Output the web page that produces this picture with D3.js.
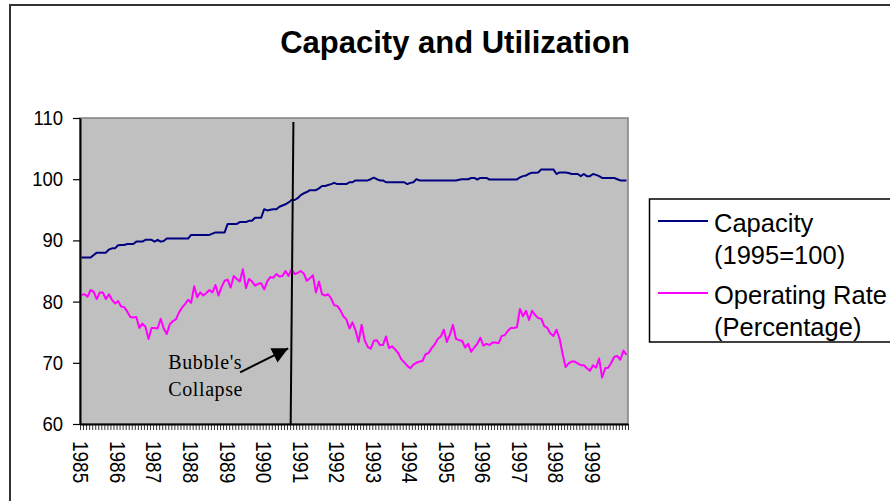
<!DOCTYPE html>
<html><head><meta charset="utf-8">
<script src="https://cdn.jsdelivr.net/npm/d3@7"></script>
<style>html,body{margin:0;padding:0;background:#fff;overflow:hidden;} svg{display:block;}</style>
</head><body>
<svg id="chart" width="890" height="501"></svg>
<script>
// ---- data ----
const title = "Capacity and Utilization";
const years = ["1985","1986","1987","1988","1989","1990","1991","1992","1993","1994","1995","1996","1997","1998","1999"];
const yTicks = [60, 70, 80, 90, 100, 110];
const capacity = [
 87.2,87.2,87.2,87.2,87.6,88.0,88.0,88.0,88.0,88.5,
 88.7,88.7,89.2,89.25,89.25,89.4,89.4,89.4,89.8,89.8,
 89.8,90.1,90.1,90.1,89.8,90.1,89.8,89.9,90.3,90.3,
 90.3,90.3,90.3,90.3,90.3,90.3,90.9,90.9,90.9,90.9,
 90.9,90.9,90.9,91.1,91.3,91.3,91.3,91.3,92.7,92.7,
 92.7,92.7,93.0,93.0,93.0,93.2,93.2,93.7,93.7,93.7,
 95.1,94.9,95.0,95.1,95.1,95.5,95.7,95.9,96.2,96.6,
 96.6,96.9,97.4,97.7,97.9,98.2,98.2,98.2,98.5,98.9,
 98.9,99.05,99.2,99.4,99.2,99.2,99.2,99.2,99.5,99.5,
 99.8,99.8,99.8,99.8,99.8,100.0,100.25,100.0,99.8,99.8,
 99.5,99.5,99.5,99.5,99.5,99.5,99.5,99.2,99.4,99.5,
 100.0,99.8,99.8,99.8,99.8,99.8,99.8,99.8,99.8,99.8,
 99.8,99.8,99.8,99.8,99.9,100.0,100.0,100.0,100.2,100.2,
 99.95,100.2,100.2,100.2,99.95,99.95,99.95,99.95,99.95,99.95,
 99.95,99.95,99.95,99.95,100.3,100.5,100.6,100.9,101.07,101.07,
 101.1,101.6,101.6,101.6,101.6,101.6,100.85,101.1,101.1,101.1,
 101.0,100.85,100.85,100.85,100.5,100.85,100.5,100.5,100.85,100.7,
 100.5,100.2,100.2,100.2,100.2,100.2,100.0,99.8,99.8,99.8
];
const operatingRate = [
 81.1,81.2,80.8,81.9,81.6,80.4,81.5,81.5,80.4,81.2,
 80.3,79.7,80.1,79.2,79.1,78.4,77.5,77.4,77.5,75.7,
 76.4,75.9,73.9,75.7,75.7,75.6,77.2,75.6,74.7,76.3,
 76.8,77.1,78.2,79.0,79.6,80.3,79.8,82.5,80.7,81.5,
 81.0,81.4,81.9,81.5,82.7,81.0,82.4,83.4,83.6,82.3,
 84.2,83.7,83.3,85.3,82.2,83.7,83.3,82.6,82.9,83.0,
 82.0,83.3,84.0,83.9,84.5,84.1,84.2,85.0,84.2,85.3,
 84.5,84.7,85.0,84.6,83.4,83.8,84.3,81.5,83.3,81.2,
 81.0,81.2,80.5,79.4,79.3,78.6,77.6,77.1,75.6,76.6,
 75.3,73.4,76.2,73.7,72.6,72.3,73.6,73.7,72.9,72.9,
 74.3,72.4,72.7,72.2,71.6,70.6,70.1,69.5,69.1,69.7,
 70.0,70.2,70.3,71.4,71.6,72.4,73.0,73.9,74.3,75.4,
 73.4,74.6,76.2,73.9,73.7,73.6,72.5,73.1,71.8,72.5,
 73.1,74.1,72.8,73.1,72.9,73.3,73.3,73.2,74.4,74.5,
 75.2,75.7,75.7,75.8,78.8,77.6,78.5,77.0,78.5,77.8,
 77.3,77.2,76.0,75.7,74.8,74.4,75.4,74.0,71.5,69.3,
 69.9,70.2,70.2,69.9,69.6,69.6,69.1,68.7,69.6,69.2,
 70.7,67.6,69.1,69.2,70.0,71.0,71.1,70.5,72.0,71.3
];
const legendLabels = [["Capacity","(1995=100)"],["Operating Rate","(Percentage)"]];
const seriesColors = ["#000080","#FF00FF"];
const annotationText = ["Bubble's","Collapse"];
// annotation anchors in data units (month index, value)
const markerLine = [[69.6, 109.35],[68.7, 60]];
const arrowLine = [[52.1, 68.45],[67.9, 72.37]];
const annotationAnchor = [28.5, 69.0];

// ---- drawing ----
const svg = d3.select("#chart");
const sans = "'Liberation Sans', Arial, sans-serif";
const plot = {left:80, right:628, top:118, bottom:424};

svg.append("rect").attr("x",10).attr("y",5).attr("width",900).attr("height",600)
  .attr("fill","#fff").attr("stroke","#333").attr("stroke-width",2);

svg.append("text").attr("x",455).attr("y",53).attr("text-anchor","middle")
  .attr("font-family",sans).attr("font-weight","bold").attr("font-size",31)
  .text(title);

const n = capacity.length;
const x = d3.scaleLinear().domain([0,n]).range([plot.left, plot.right]);
const y = d3.scaleLinear().domain([60,110]).range([plot.bottom, plot.top]);

svg.append("rect").attr("x",plot.left).attr("y",plot.top)
  .attr("width",plot.right-plot.left).attr("height",plot.bottom-plot.top)
  .attr("fill","#C0C0C0").attr("stroke","#808080").attr("stroke-width",1.5);

const line = d3.line().x((d,i)=>x(i+0.5)).y(d=>y(d));
[capacity, operatingRate].forEach((s,k)=>{
  svg.append("path").datum(s).attr("d",line).attr("fill","none")
    .attr("stroke",seriesColors[k]).attr("stroke-width",2).attr("stroke-linejoin","round");
});

// y axis
const yAxis = svg.append("g").attr("transform",`translate(${plot.left},0)`)
  .call(d3.axisLeft(y).tickValues(yTicks).tickSize(7).tickPadding(10).tickSizeOuter(0));
yAxis.select(".domain").attr("stroke","#000").attr("stroke-width",2);
yAxis.selectAll(".tick line").attr("stroke","#000").attr("stroke-width",1.2);
yAxis.selectAll("text").attr("font-family",sans).attr("font-size",18.5).attr("fill","#000")
  .attr("transform","scale(1,1.08)").attr("y",0).attr("dy","0.32em");
yAxis.selectAll(".tick text").each(function(){ /* keep centered after vertical stretch */
  d3.select(this).attr("transform",null).style("transform","scaleY(1.08)").style("transform-box","fill-box").style("transform-origin","center");
});

// x axis (month ticks)
const xAxis = svg.append("g").attr("transform",`translate(0,${plot.bottom})`)
  .call(d3.axisBottom(x).tickValues(d3.range(0,n+1)).tickSize(6).tickFormat("").tickSizeOuter(0));
xAxis.select(".domain").attr("stroke","#000").attr("stroke-width",2);
xAxis.selectAll(".tick line").attr("stroke","#000").attr("stroke-width",0.8);

// year labels
svg.append("g").selectAll("text").data(years).join("text")
  .attr("transform",(d,i)=>`translate(${x(i*12+0.5)},441) rotate(90) scale(1,1.2)`)
  .attr("text-anchor","start").attr("dominant-baseline","central")
  .attr("font-family",sans).attr("font-size",19).text(d=>d);

// marker line
svg.append("line")
  .attr("x1",x(markerLine[0][0]+0.5)).attr("y1",y(markerLine[0][1]))
  .attr("x2",x(markerLine[1][0]+0.5)).attr("y2",y(markerLine[1][1]))
  .attr("stroke","#000").attr("stroke-width",2);

// arrow
const defs = svg.append("defs");
defs.append("marker").attr("id","ah").attr("viewBox","0 0 10 10").attr("refX",10).attr("refY",5)
  .attr("markerWidth",16).attr("markerHeight",16).attr("markerUnits","userSpaceOnUse")
  .attr("orient","auto").append("path").attr("d","M0,0 L10,5 L0,10 z").attr("fill","#000");
svg.append("line")
  .attr("x1",x(arrowLine[0][0]+0.5)).attr("y1",y(arrowLine[0][1]))
  .attr("x2",x(arrowLine[1][0]+0.5)).attr("y2",y(arrowLine[1][1]))
  .attr("stroke","#000").attr("stroke-width",2).attr("marker-end","url(#ah)");

svg.append("g").selectAll("text").data(annotationText).join("text")
  .attr("x",x(annotationAnchor[0]+0.5)).attr("y",(d,i)=>y(annotationAnchor[1])+i*27.5)
  .attr("font-family","'Liberation Serif','Times New Roman',serif").attr("font-size",20)
  .attr("letter-spacing",0.6).attr("fill","#000").text(d=>d);

// legend
const lg = svg.append("g");
lg.append("rect").attr("x",649.5).attr("y",199).attr("width",260).attr("height",143)
  .attr("fill","#fff").attr("stroke","#000").attr("stroke-width",1.5);
legendLabels.forEach((lab,k)=>{
  const base = 221 + k*72;
  lg.append("line").attr("x1",658).attr("x2",708).attr("y1",base).attr("y2",base)
    .attr("stroke",seriesColors[k]).attr("stroke-width",2);
  lab.forEach((t,j)=>{
    lg.append("text").attr("x",714).attr("y",base+10.7+j*32.6)
      .attr("font-family",sans).attr("font-size",25.5).text(t);
  });
});
</script>
</body></html>
